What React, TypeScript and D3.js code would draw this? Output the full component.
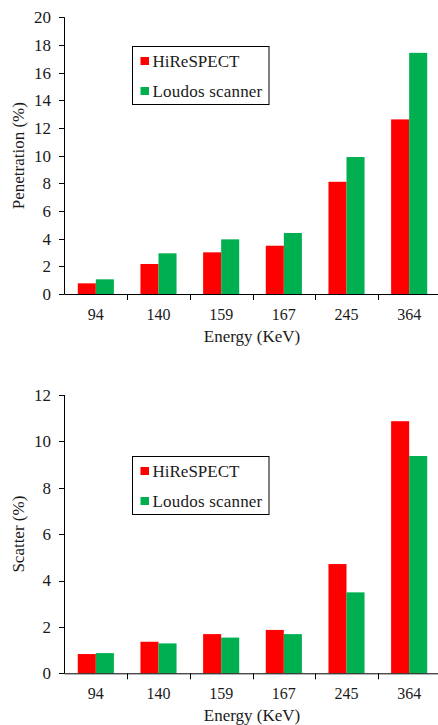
import { scaleBand, scaleLinear } from "d3";

const energies = ["94", "140", "159", "167", "245", "364"];
const seriesNames = ["HiReSPECT", "Loudos scanner"];
const seriesColors = ["#FF0000", "#00B050"];

const penetrationHiReSPECT = [0.77, 2.17, 3.01, 3.49, 8.11, 12.62];
const penetrationLoudos = [1.06, 2.94, 3.95, 4.41, 9.9, 17.43];
const scatterHiReSPECT = [0.83, 1.36, 1.69, 1.87, 4.71, 10.87];
const scatterLoudos = [0.87, 1.29, 1.54, 1.69, 3.49, 9.37];

const penetrationTicks = [0, 2, 4, 6, 8, 10, 12, 14, 16, 18, 20];
const scatterTicks = [0, 2, 4, 6, 8, 10, 12];

const FONT = "Liberation Serif";

function Panel({ top, bottom, ticks, series, yLabel, legendTop }: any) {
    const yMax = ticks[ticks.length - 1];
    const y = scaleLinear().domain([0, yMax]).range([bottom, top]);
    const axisX = 64.5;

    const x0 = scaleBand()
        .domain(energies)
        .range([axisX, 440.5])
        .paddingInner(0.424)
        .paddingOuter(0.212);
    const x1 = scaleBand()
        .domain(seriesNames)
        .range([0, x0.bandwidth()]);

    const step = x0.step();
    const boundaries = energies.slice(1).map((e) => (x0(e) as number) - step * 0.212);

    const midY = (top + bottom) / 2;
    const bx = 132.5;
    const bw = 136.5;
    const bh = 58;

    return (
        <g fontFamily={FONT} fill="#1a1a1a">
            {/* bars */}
            {energies.map((e, i) => (
                <g key={e} transform={`translate(${x0(e)},0)`}>
                    {seriesNames.map((s, j) => (
                        <rect
                            key={s}
                            x={x1(s)}
                            y={y(series[j][i])}
                            width={x1.bandwidth()}
                            height={bottom - y(series[j][i])}
                            fill={seriesColors[j]}
                        />
                    ))}
                </g>
            ))}

            {/* y axis */}
            <line x1={axisX} x2={axisX} y1={top} y2={bottom} stroke="#000" />
            {ticks.map((t: number) => (
                <g key={t}>
                    <line x1={axisX - 5.5} x2={axisX} y1={Math.round(y(t)) + 0.5} y2={Math.round(y(t)) + 0.5} stroke="#000" />
                    <text x={51} y={y(t)} dy="0.35em" textAnchor="end" fontSize={17}>
                        {t}
                    </text>
                </g>
            ))}
            <text
                transform={`translate(24,${midY}) rotate(-90)`}
                textAnchor="middle"
                fontSize={17}
            >
                {yLabel}
            </text>

            {/* x axis */}
            <line x1={axisX} x2={438} y1={bottom + 0.5} y2={bottom + 0.5} stroke="#000" />
            {boundaries.map((b) => (
                <line key={b} x1={Math.round(b) + 0.5} x2={Math.round(b) + 0.5} y1={bottom} y2={bottom + 6} stroke="#000" />
            ))}
            {energies.map((e) => (
                <text
                    key={e}
                    x={(x0(e) as number) + x0.bandwidth() / 2}
                    y={bottom + 25.5}
                    textAnchor="middle"
                    fontSize={16}
                >
                    {e}
                </text>
            ))}
            <text x={252} y={bottom + 47.5} textAnchor="middle" fontSize={17}>
                Energy (KeV)
            </text>

            {/* legend */}
            <rect x={bx} y={legendTop} width={bw} height={bh} fill="#fff" stroke="#000" />
            {seriesNames.map((s, j) => (
                <g key={s} transform={`translate(0,${legendTop + 10.5 + j * 30})`}>
                    <rect x={140.5} y={0} width={8.5} height={8} fill={seriesColors[j]} />
                    <text x={152.5} y={9.5} fontSize={17} letterSpacing={j === 1 ? 0.2 : 0}>
                        {s}
                    </text>
                </g>
            ))}
        </g>
    );
}

function App() {
    return (
        <svg
            width={438}
            height={725}
            style={{ position: "absolute", left: 0, top: 0, background: "#fff" }}
        >
            <Panel
                top={17.3}
                bottom={294}
                ticks={penetrationTicks}
                series={[penetrationHiReSPECT, penetrationLoudos]}
                yLabel="Penetration (%)"
                legendTop={46.5}
            />
            <Panel
                top={395}
                bottom={673.3}
                ticks={scatterTicks}
                series={[scatterHiReSPECT, scatterLoudos]}
                yLabel="Scatter (%)"
                legendTop={456.5}
            />
        </svg>
    );
}

export default App;
